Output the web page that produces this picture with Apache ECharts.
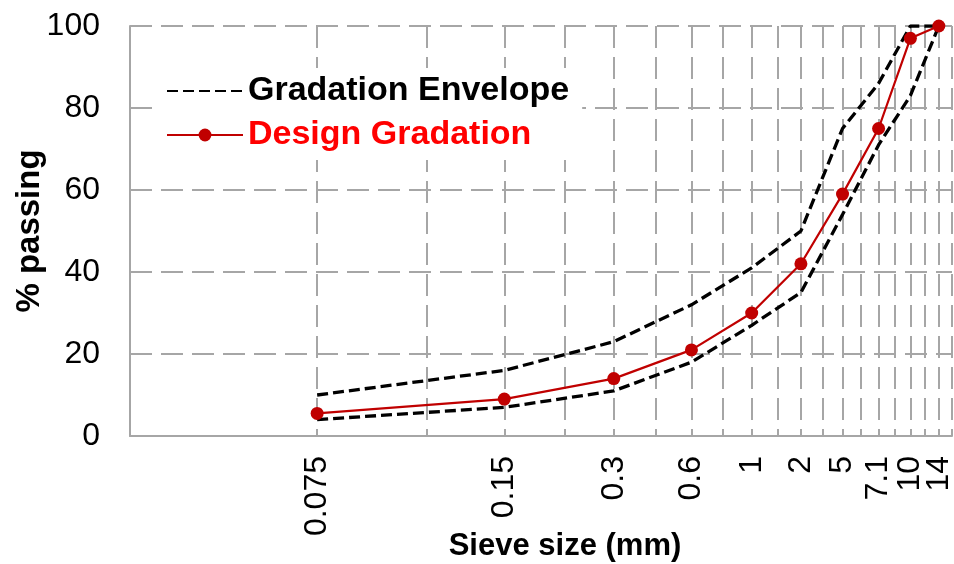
<!DOCTYPE html>
<html>
<head>
<meta charset="utf-8">
<script src="https://cdn.jsdelivr.net/npm/echarts@6/dist/echarts.min.js"></script>
<style>
  html, body { margin: 0; padding: 0; background: #fff; }
  #chart { width: 954px; height: 564px; }
</style>
</head>
<body>
<div id="chart"></div>
<script>
// Sieve sizes (tick labels) and their plotting positions on the log axis
const sieveLabels = ['0.075', '0.15', '0.3', '0.6', '1', '2', '5', '7.1', '10', '14'];
const plotPositions = [2, 4, 6, 8, 10, 12, 14, 16, 18, 20];
// Vertical grid line positions
const gridPositions = [1, 2, 3, 4, 5, 6, 7, 8, 9, 10, 11, 12, 13, 14, 15, 16, 17, 18, 19, 20, 21];
// % passing
const designGradation = [5.5, 9, 14, 21, 30, 42, 59, 75, 97, 100];
const envelopeUpper = [10, 16, 23, 32, 41, 50, 75, 86, 100, 100];
const envelopeLower = [4, 7, 11, 18, 27, 35, 54, 71, 83, 100];

const FONT = '"Liberation Sans", Arial, sans-serif';
const GRID_COLOR = '#A6A6A6';

function pairs(vals) {
  return plotPositions.map((p, i) => [p, vals[i]]);
}
function labelFor(v) {
  const i = plotPositions.indexOf(Math.round(v));
  return i >= 0 ? sieveLabels[i] : '';
}
// Labels are split over two coincident axes so none get auto-hidden
const labelsA = plotPositions.filter((p, i) => i % 2 === 0);
const labelsB = plotPositions.filter((p, i) => i % 2 === 1);

function labelStyle(values) {
  return {
    customValues: values,
    rotate: 90,
    margin: 20,
    fontFamily: FONT,
    fontSize: 32,
    lineHeight: 16,
    color: '#000',
    hideOverlap: false,
    formatter: labelFor
  };
}

const chart = echarts.init(document.getElementById('chart'), null, { renderer: 'canvas' });

chart.setOption({
  animation: false,
  backgroundColor: '#fff',
  textStyle: { fontFamily: FONT },
  grid: { left: 130, right: 2, top: 26, bottom: 128, containLabel: false, outerBoundsMode: 'none' },
  legend: {
    orient: 'vertical',
    left: 152,
    top: 68,
    padding: [5, 13, 7, 14],
    backgroundColor: '#fff',
    itemWidth: 76,
    itemHeight: 16,
    itemGap: 8,
    selectedMode: false,
    textStyle: { fontFamily: FONT, fontSize: 34, fontWeight: 'bold', lineHeight: 36, padding: [0, 0, 0, 0] },
    data: [
      { name: 'Gradation Envelope', textStyle: { color: '#000' }, itemStyle: { opacity: 0 } },
      { name: 'Design Gradation', textStyle: { color: '#FF0000' } }
    ]
  },
  xAxis: [
    {
      type: 'log',
      logBase: 10,
      min: 1,
      max: 21,
      position: 'bottom',
      name: 'Sieve size (mm)',
      nameLocation: 'middle',
      nameGap: 95,
      nameMoveOverlap: false,
      nameTextStyle: { fontFamily: FONT, fontSize: 31, fontWeight: 'bold', color: '#000', padding: [0, 0, 0, 48] },
      axisLine: { show: true, lineStyle: { color: GRID_COLOR, width: 2 } },
      axisTick: { show: false, customValues: gridPositions },
      axisLabel: labelStyle(labelsA),
      splitLine: { show: true, lineStyle: { color: GRID_COLOR, width: 2, type: [22, 9] } },
      minorTick: { show: false },
      minorSplitLine: { show: false }
    },
    {
      type: 'log',
      logBase: 10,
      min: 1,
      max: 21,
      position: 'bottom',
      offset: 0,
      axisLine: { show: false },
      axisTick: { show: false, customValues: labelsB },
      axisLabel: labelStyle(labelsB),
      splitLine: { show: false },
      minorTick: { show: false },
      minorSplitLine: { show: false }
    }
  ],
  yAxis: {
    type: 'value',
    min: 0,
    max: 100,
    interval: 20,
    name: '% passing',
    nameLocation: 'middle',
    nameGap: 84,
    nameMoveOverlap: false,
    nameTextStyle: { fontFamily: FONT, fontSize: 33, fontWeight: 'bold', color: '#000' },
    axisLine: { show: true, lineStyle: { color: GRID_COLOR, width: 2 } },
    axisTick: { show: false },
    axisLabel: { margin: 30, fontFamily: FONT, fontSize: 32, color: '#000' },
    splitLine: { show: true, lineStyle: { color: GRID_COLOR, width: 2, type: [22, 9] } }
  },
  series: [
    {
      name: 'Gradation Envelope',
      type: 'line',
      xAxisIndex: 0,
      data: pairs(envelopeUpper),
      symbol: 'none',
      lineStyle: { color: '#000', width: 3.3, type: [11, 5] },
      itemStyle: { color: '#000' },
      z: 3
    },
    {
      name: 'Gradation Envelope',
      type: 'line',
      xAxisIndex: 0,
      data: pairs(envelopeLower),
      symbol: 'none',
      lineStyle: { color: '#000', width: 3.3, type: [11, 5] },
      itemStyle: { color: '#000' },
      z: 3
    },
    {
      name: 'Design Gradation',
      type: 'line',
      xAxisIndex: 0,
      data: pairs(designGradation),
      symbol: 'circle',
      symbolSize: 13,
      lineStyle: { color: '#C00000', width: 2.2 },
      itemStyle: { color: '#C00000' },
      z: 4
    }
  ]
});
</script>
</body>
</html>
